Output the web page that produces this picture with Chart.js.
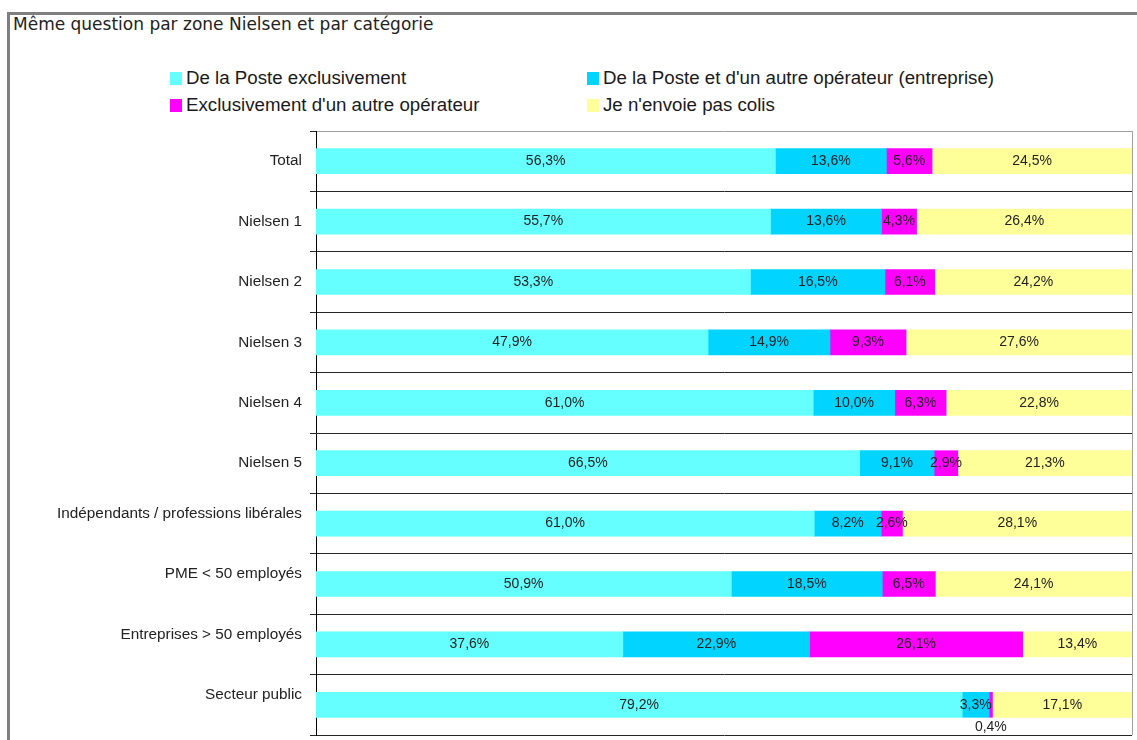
<!DOCTYPE html>
<html>
<head>
<meta charset="utf-8">
<script src="https://cdn.jsdelivr.net/npm/chart.js@4.4.6/dist/chart.umd.min.js"></script>
<style>
  body { margin: 0; background: #fff; }
  #page { position: relative; width: 1137px; height: 740px; overflow: hidden; }
  #cadre { position: absolute; left: 7px; top: 12px; right: -10px; bottom: -10px;
           border-top: 3px solid #7f7f7f; border-left: 3px solid #7f7f7f; }
  #titre { position: absolute; left: 13px; top: 14px; font: 17px "DejaVu Sans", Verdana, sans-serif; color: #222; }
  .leg { position: absolute; font: 18.7px "Liberation Sans", Arial, sans-serif; color: #1a1a1a; white-space: nowrap; line-height: 20px; }
  .leg i { display: inline-block; width: 12px; height: 13px; margin-right: 4px; vertical-align: -1px; }
  canvas { position: absolute; left: 0; top: 0; }
</style>
</head>
<body>
<div id="page">
  <div id="cadre"></div>
  <div id="titre">Même question par zone Nielsen et par catégorie</div>
  <div id="legende"></div>
  <canvas id="graficaColis" width="1137" height="740"></canvas>
</div>
<script>
const categories = ["Total", "Nielsen 1", "Nielsen 2", "Nielsen 3", "Nielsen 4", "Nielsen 5",
    "Indépendants / professions libérales", "PME < 50 employés", "Entreprises > 50 employés", "Secteur public"];

const nomsSeries = ["De la Poste exclusivement", "De la Poste et d'un autre opérateur (entreprise)",
    "Exclusivement d'un autre opérateur", "Je n'envoie pas colis"];

const posteSeule   = [56.3, 55.7, 53.3, 47.9, 61.0, 66.5, 61.0, 50.9, 37.6, 79.2];
const posteEtAutre = [13.6, 13.6, 16.5, 14.9, 10.0, 9.1, 8.2, 18.5, 22.9, 3.3];
const autreSeul    = [5.6, 4.3, 6.1, 9.3, 6.3, 2.9, 2.6, 6.5, 26.1, 0.4];
const pasDeColis   = [24.5, 26.4, 24.2, 27.6, 22.8, 21.3, 28.1, 24.1, 13.4, 17.1];

const couleurs = ["#66FFFF", "#00D4FF", "#FF00FF", "#FFFF99"];

document.addEventListener('DOMContentLoaded', function () {
    const series = [posteSeule, posteEtAutre, autreSeul, pasDeColis];

    // barres a 100% : chaque ligne ramenee a son total
    const totaux = categories.map((c, i) => series.reduce((t, s) => t + s[i], 0));

    // legende sur deux colonnes
    const legende = document.getElementById('legende');
    const positions = [[170, 68], [587, 68], [170, 95], [587, 95]];
    nomsSeries.forEach(function (nom, k) {
        const item = document.createElement('div');
        item.className = 'leg';
        item.style.left = positions[k][0] + 'px';
        item.style.top = positions[k][1] + 'px';
        item.innerHTML = `<i style="background:${couleurs[k]}"></i>`;
        item.appendChild(document.createTextNode(nom));
        legende.appendChild(item);
    });

    const etiquettes = {
        id: 'etiquettes',
        afterDatasetsDraw(chart) {
            const ctx = chart.ctx;
            const zone = chart.chartArea;
            ctx.save();
            // bordure grise a droite de la zone de tracé
            ctx.strokeStyle = '#a0a0a0';
            ctx.lineWidth = 1;
            ctx.beginPath();
            ctx.moveTo(zone.right + 0.5, zone.top);
            ctx.lineTo(zone.right + 0.5, zone.bottom);
            ctx.stroke();

            ctx.font = '14px "Liberation Sans", Arial, sans-serif';
            ctx.fillStyle = '#222';
            ctx.textAlign = 'center';
            ctx.textBaseline = 'middle';
            chart.data.datasets.forEach(function (ds, di) {
                chart.getDatasetMeta(di).data.forEach(function (barre, i) {
                    const p = barre.getProps(['x', 'y', 'base', 'height'], true);
                    const v = ds.brut[i];
                    const texte = v.toFixed(1).replace('.', ',') + '%';
                    let y = p.y;
                    if (v < 1) y = p.y + p.height / 2 + 10;
                    ctx.fillText(texte, (p.x + p.base) / 2, y);
                });
            });
            ctx.restore();
        }
    };

    const ctx = document.getElementById('graficaColis').getContext('2d');
    new Chart(ctx, {
        type: 'bar',
        data: {
            labels: categories,
            datasets: series.map((s, k) => ({
                label: nomsSeries[k],
                data: s.map((v, i) => v / totaux[i] * 100),
                brut: s,
                backgroundColor: couleurs[k],
                borderWidth: 0,
                barThickness: 25
            }))
        },
        options: {
            indexAxis: 'y',
            responsive: false,
            animation: false,
            layout: { padding: { left: 0, top: 131, right: 5, bottom: 5 } },
            plugins: {
                legend: { display: false },
                tooltip: { enabled: false }
            },
            scales: {
                x: {
                    stacked: true,
                    min: 0,
                    max: 100,
                    display: false
                },
                y: {
                    stacked: true,
                    afterFit: function (scale) {
                        scale.width = 316;
                        scale.paddingTop = 0;
                        scale.paddingBottom = 0;
                    },
                    border: { color: '#000', width: 1 },
                    grid: {
                        offset: true,
                        tickLength: 6,
                        color: c => (c.index === 0 || c.index === categories.length) ? '#a0a0a0' : '#262626',
                        tickColor: '#262626'
                    },
                    ticks: {
                        padding: 8,
                        color: '#222',
                        font: { family: '"Liberation Sans", Arial, sans-serif', size: 15.3, lineHeight: 1.3 },
                        callback: function (val, i) {
                            const t = this.getLabelForValue(val);
                            return i >= 6 ? [t, ''] : t;
                        }
                    }
                }
            }
        },
        plugins: [etiquettes]
    });
});
</script>
</body>
</html>
